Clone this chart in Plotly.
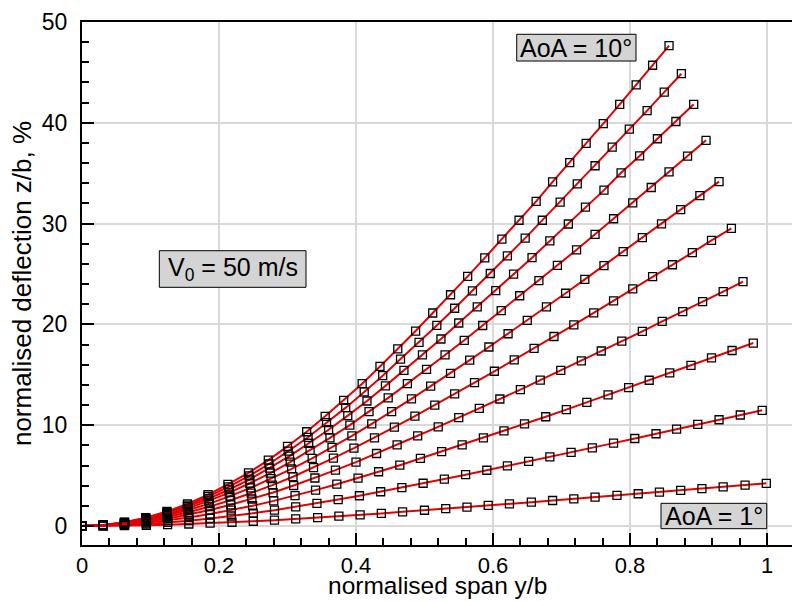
import plotly.graph_objects as go

# ---- data (normalised span y/b, deflection z/b in %) ----
aoa_deg = [1, 2, 3, 4, 5, 6, 7, 8, 9, 10]

span_aoa01 = [0, 0.031, 0.062, 0.094, 0.125, 0.156, 0.187, 0.219, 0.250, 0.281, 0.312, 0.344, 0.375, 0.406, 0.437, 0.468, 0.500,
              0.531, 0.562, 0.593, 0.624, 0.656, 0.687, 0.718, 0.749, 0.781, 0.812, 0.843, 0.874, 0.905, 0.936, 0.968, 0.999]
defl_aoa01 = [0, 0.01, 0.03, 0.07, 0.13, 0.20, 0.28, 0.37, 0.47, 0.58, 0.70, 0.83, 0.97, 1.11, 1.25, 1.41, 1.56,
              1.72, 1.88, 2.04, 2.20, 2.36, 2.53, 2.69, 2.86, 3.03, 3.20, 3.37, 3.54, 3.71, 3.89, 4.06, 4.23]

span_aoa02 = [0, 0.031, 0.062, 0.094, 0.125, 0.156, 0.187, 0.218, 0.250, 0.281, 0.312, 0.343, 0.374, 0.405, 0.436, 0.467, 0.498,
              0.529, 0.560, 0.591, 0.621, 0.652, 0.683, 0.714, 0.745, 0.776, 0.807, 0.838, 0.868, 0.899, 0.930, 0.961, 0.993]
defl_aoa02 = [0, 0.02, 0.09, 0.20, 0.35, 0.53, 0.75, 0.99, 1.27, 1.57, 1.90, 2.25, 2.62, 3.00, 3.40, 3.81, 4.24,
              4.66, 5.09, 5.53, 5.97, 6.41, 6.85, 7.31, 7.76, 8.22, 8.68, 9.15, 9.62, 10.08, 10.54, 11.01, 11.48]

span_aoa03 = [0, 0.031, 0.062, 0.094, 0.125, 0.156, 0.187, 0.218, 0.249, 0.280, 0.311, 0.341, 0.372, 0.403, 0.433, 0.464, 0.494,
              0.525, 0.555, 0.586, 0.616, 0.646, 0.677, 0.707, 0.737, 0.768, 0.798, 0.828, 0.858, 0.889, 0.919, 0.949, 0.980]
defl_aoa03 = [0, 0.04, 0.14, 0.31, 0.55, 0.84, 1.18, 1.57, 2.01, 2.49, 3.01, 3.56, 4.15, 4.75, 5.38, 6.03, 6.70,
              7.37, 8.05, 8.74, 9.43, 10.13, 10.84, 11.55, 12.27, 13.00, 13.73, 14.46, 15.20, 15.93, 16.67, 17.41, 18.15]

span_aoa04 = [0, 0.031, 0.062, 0.094, 0.125, 0.156, 0.187, 0.217, 0.248, 0.279, 0.309, 0.340, 0.370, 0.400, 0.430, 0.460, 0.490,
              0.520, 0.550, 0.580, 0.610, 0.640, 0.669, 0.699, 0.729, 0.758, 0.788, 0.818, 0.847, 0.877, 0.906, 0.936, 0.965]
defl_aoa04 = [0, 0.05, 0.19, 0.42, 0.73, 1.12, 1.58, 2.10, 2.68, 3.32, 4.02, 4.76, 5.54, 6.34, 7.19, 8.05, 8.95,
              9.84, 10.75, 11.67, 12.60, 13.53, 14.47, 15.43, 16.39, 17.36, 18.34, 19.31, 20.30, 21.27, 22.26, 23.25, 24.24]

span_aoa05 = [0, 0.031, 0.062, 0.093, 0.124, 0.155, 0.186, 0.217, 0.247, 0.278, 0.308, 0.338, 0.367, 0.397, 0.427, 0.456, 0.486,
              0.515, 0.544, 0.573, 0.602, 0.631, 0.660, 0.689, 0.718, 0.747, 0.776, 0.804, 0.833, 0.862, 0.891, 0.919, 0.948]
defl_aoa05 = [0, 0.06, 0.23, 0.51, 0.89, 1.36, 1.92, 2.56, 3.27, 4.05, 4.89, 5.79, 6.74, 7.73, 8.75, 9.81, 10.90,
              11.99, 13.10, 14.22, 15.35, 16.49, 17.63, 18.80, 19.96, 21.15, 22.34, 23.52, 24.73, 25.92, 27.12, 28.33, 29.53]

span_aoa06 = [0, 0.031, 0.062, 0.093, 0.124, 0.155, 0.186, 0.216, 0.246, 0.276, 0.306, 0.336, 0.365, 0.394, 0.423, 0.452, 0.481,
              0.509, 0.538, 0.566, 0.594, 0.622, 0.650, 0.678, 0.706, 0.734, 0.762, 0.790, 0.818, 0.846, 0.874, 0.902, 0.930]
defl_aoa06 = [0, 0.07, 0.27, 0.59, 1.03, 1.58, 2.22, 2.96, 3.78, 4.69, 5.66, 6.70, 7.80, 8.94, 10.13, 11.35, 12.61,
              13.87, 15.15, 16.45, 17.76, 19.07, 20.40, 21.74, 23.09, 24.47, 25.84, 27.21, 28.61, 29.98, 31.38, 32.77, 34.16]

span_aoa07 = [0, 0.031, 0.062, 0.093, 0.124, 0.155, 0.185, 0.215, 0.245, 0.275, 0.304, 0.333, 0.362, 0.391, 0.419, 0.447, 0.475,
              0.503, 0.530, 0.558, 0.585, 0.612, 0.639, 0.667, 0.694, 0.722, 0.749, 0.776, 0.804, 0.831, 0.857, 0.884, 0.911]
defl_aoa07 = [0, 0.08, 0.30, 0.66, 1.15, 1.77, 2.49, 3.31, 4.24, 5.25, 6.34, 7.51, 8.74, 10.01, 11.34, 12.71, 14.12,
              15.53, 16.97, 18.42, 19.89, 21.36, 22.84, 24.35, 25.86, 27.40, 28.94, 30.48, 32.05, 33.58, 35.14, 36.70, 38.26]

span_aoa08 = [0, 0.031, 0.062, 0.093, 0.124, 0.154, 0.185, 0.215, 0.245, 0.274, 0.303, 0.331, 0.360, 0.388, 0.416, 0.443, 0.470,
              0.497, 0.524, 0.550, 0.577, 0.604, 0.630, 0.657, 0.683, 0.710, 0.735, 0.762, 0.787, 0.814, 0.840, 0.867, 0.893]
defl_aoa08 = [0, 0.08, 0.33, 0.72, 1.26, 1.93, 2.72, 3.62, 4.63, 5.74, 6.93, 8.21, 9.55, 10.95, 12.40, 13.90, 15.44,
              16.98, 18.55, 20.14, 21.74, 23.36, 24.98, 26.62, 28.28, 29.96, 31.64, 33.32, 35.04, 36.71, 38.42, 40.13, 41.83]

span_aoa09 = [0, 0.031, 0.062, 0.093, 0.124, 0.154, 0.184, 0.214, 0.244, 0.273, 0.301, 0.330, 0.357, 0.385, 0.412, 0.439, 0.465,
              0.492, 0.518, 0.544, 0.570, 0.596, 0.621, 0.647, 0.672, 0.698, 0.723, 0.749, 0.774, 0.799, 0.825, 0.850, 0.875]
defl_aoa09 = [0, 0.09, 0.35, 0.78, 1.35, 2.07, 2.92, 3.89, 4.97, 6.15, 7.43, 8.80, 10.25, 11.74, 13.30, 14.91, 16.56,
              18.22, 19.90, 21.60, 23.32, 25.05, 26.79, 28.56, 30.33, 32.14, 33.94, 35.74, 37.58, 39.38, 41.21, 43.04, 44.87]

span_aoa10 = [0, 0.031, 0.062, 0.093, 0.124, 0.154, 0.184, 0.213, 0.243, 0.272, 0.300, 0.328, 0.355, 0.382, 0.409, 0.435, 0.461,
              0.487, 0.512, 0.538, 0.563, 0.588, 0.613, 0.638, 0.663, 0.687, 0.712, 0.736, 0.761, 0.785, 0.809, 0.833, 0.857]
defl_aoa10 = [0, 0.10, 0.37, 0.83, 1.44, 2.20, 3.10, 4.13, 5.28, 6.54, 7.90, 9.35, 10.88, 12.47, 14.12, 15.83, 17.58,
              19.34, 21.13, 22.94, 24.77, 26.60, 28.45, 30.33, 32.21, 34.13, 36.05, 37.96, 39.91, 41.82, 43.77, 45.71, 47.65]

x_tick_vals = [0, 0.2, 0.4, 0.6, 0.8, 1.0]
x_tick_text = ["0", "0.2", "0.4", "0.6", "0.8", "1"]
y_tick_vals = [0, 10, 20, 30, 40, 50]

curves = [
    (span_aoa01, defl_aoa01), (span_aoa02, defl_aoa02), (span_aoa03, defl_aoa03),
    (span_aoa04, defl_aoa04), (span_aoa05, defl_aoa05), (span_aoa06, defl_aoa06),
    (span_aoa07, defl_aoa07), (span_aoa08, defl_aoa08), (span_aoa09, defl_aoa09),
    (span_aoa10, defl_aoa10),
]

FONT = "Liberation Sans, Arial, Helvetica, sans-serif"
RED = "rgb(228,0,0)"

fig = go.Figure()
for aoa, (xs, zs) in zip(aoa_deg, curves):
    fig.add_trace(go.Scatter(x=xs, y=zs, mode="lines", name=f"AoA = {aoa}°",
                             line=dict(color=RED, width=2), showlegend=False, hoverinfo="skip"))
for aoa, (xs, zs) in zip(aoa_deg, curves):
    fig.add_trace(go.Scatter(x=xs, y=zs, mode="markers", name=f"AoA = {aoa}°",
                             marker=dict(symbol="square-open", size=8, color="black",
                                         line=dict(width=1.3, color="black")),
                             showlegend=False))

axis_common = dict(
    showgrid=True, gridcolor="#d9d9d9", gridwidth=2,
    showline=True, linecolor="black", linewidth=2,
    ticks="inside", ticklen=12, tickwidth=2, tickcolor="black",
    zeroline=False, automargin=False,
)

fig.update_layout(
    width=792, height=601,
    margin=dict(l=82, r=0, t=22, b=56),
    paper_bgcolor="white", plot_bgcolor="white",
    font=dict(family=FONT, color="black"),
    showlegend=False,
    xaxis=dict(
        range=[0, 1.0365], tickvals=x_tick_vals, ticktext=x_tick_text,
        mirror=True, ticklabelstandoff=0,
        tickfont=dict(family=FONT, size=22, color="black"),
        minor=dict(dtick=0.04, tick0=0, ticks="inside", ticklen=7, tickwidth=1.5,
                   tickcolor="black", showgrid=False),
        **axis_common,
    ),
    yaxis=dict(
        range=[-1.885, 50], tickvals=y_tick_vals,
        mirror=False, ticklabelstandoff=8,
        tickfont=dict(family=FONT, size=23, color="black"),
        minor=dict(dtick=2, tick0=0, ticks="inside", ticklen=7, tickwidth=1.5,
                   tickcolor="black", showgrid=False),
        title=dict(text="normalised deflection z/b, %", font=dict(family=FONT, size=26), standoff=3),
        **axis_common,
    ),
)

# x-axis title placed as a paper annotation so that it sits snugly under the tick labels
fig.add_annotation(xref="paper", yref="paper", x=0.5, y=-0.1071, xanchor="center", yanchor="bottom",
                   text="normalised span y/b", showarrow=False,
                   font=dict(family=FONT, size=24.5, color="black"))

boxes = [
    # (x0, x1, y0, y1) in paper coords, text
    ((0.6123, 0.7803, 0.9254, 0.9765), "AoA = 10°"),
    ((0.8155, 0.9644, 0.0312, 0.0797), "AoA = 1°"),
    ((0.1089, 0.3155, 0.4927, 0.5627), "V<sub>0</sub> = 50 m/s"),
]
for (x0, x1, y0, y1), txt in boxes:
    fig.add_shape(type="rect", xref="paper", yref="paper", x0=x0, x1=x1, y0=y0, y1=y1,
                  fillcolor="#d4d4d4", line=dict(color="black", width=1), layer="above")
    fig.add_annotation(xref="paper", yref="paper", x=(x0 + x1) / 2, y=(y0 + y1) / 2,
                       text=txt, showarrow=False, xanchor="center", yanchor="middle",
                       font=dict(family=FONT, size=25, color="black"))

fig.write_html(
    "out.html",
    config={"displayModeBar": False},
    post_script="document.body.style.margin='0';document.body.style.overflow='hidden';",
)
